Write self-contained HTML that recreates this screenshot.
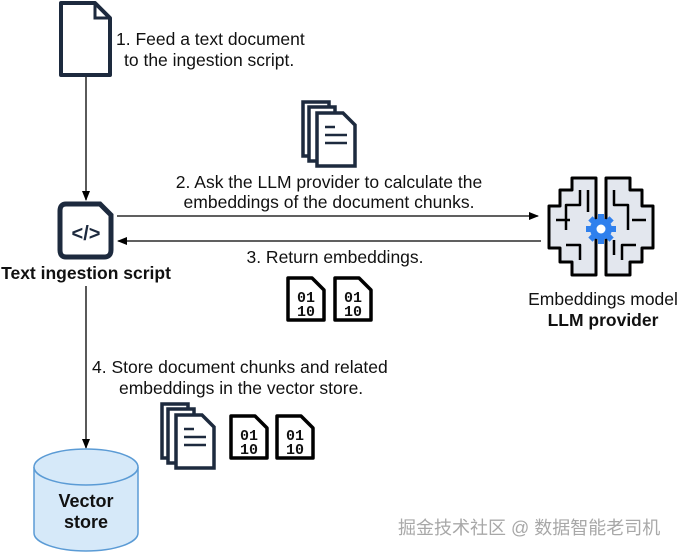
<!DOCTYPE html>
<html><head><meta charset="utf-8"><style>
body{margin:0;background:#fff;width:677px;height:554px;overflow:hidden}
text{font-family:"Liberation Sans",Arial,sans-serif;fill:#111}
</style></head><body>
<svg width="677" height="554" viewBox="0 0 677 554" xmlns="http://www.w3.org/2000/svg">
<defs>
<marker id="ah" markerWidth="10" markerHeight="8" refX="9" refY="4" orient="auto" markerUnits="userSpaceOnUse">
<path d="M0,0 L10,4 L0,8 z" fill="#000"/></marker>
<g id="bin">
<path d="M2,2 H26 L38,14 V44 H2 Z" fill="#fff" stroke="#000" stroke-width="3.5" stroke-linejoin="round"/>
<text x="20" y="26" font-size="15" font-weight="bold" text-anchor="middle" style="font-family:'Liberation Mono',monospace">01</text>
<text x="20" y="40" font-size="15" font-weight="bold" text-anchor="middle" style="font-family:'Liberation Mono',monospace">10</text>
</g>
<g id="stack" fill="#fff" stroke="#1d2a3e" stroke-width="3.5">
<path d="M2,2 H28 V56 H2 Z"/>
<path d="M8,7 H34 V61 H8 Z"/>
<path d="M16,13 H42 L54,25 V66 H16 Z"/>
<path d="M24,27 H34 M24,35 H46 M24,43 H46" stroke-width="2.5"/>
</g>
</defs>
<!-- doc -->
<path d="M61,3 H95 L110,18 V75 H61 Z" fill="#fff" stroke="#1d2a3e" stroke-width="4" stroke-linejoin="round"/>
<path d="M95,3 V18 H110" fill="none" stroke="#1d2a3e" stroke-width="3"/>
<line x1="86" y1="77" x2="86" y2="200" stroke="#000" stroke-width="1.3" marker-end="url(#ah)"/>
<text x="116" y="45" font-size="17.5">1. Feed a text document</text>
<text x="124" y="66" font-size="17.5">to the ingestion script.</text>
<!-- script -->
<path d="M66,204 H100 L111,215 V250 Q111,257 104,257 H66 Q60,257 60,250 V211 Q60,204 66,204 Z" fill="#fff" stroke="#1d2a3e" stroke-width="5"/>
<text x="86" y="240" font-size="20" font-weight="bold" text-anchor="middle" style="fill:#1d2a3e">&lt;/&gt;</text>
<text x="86" y="279" font-size="17.5" font-weight="bold" text-anchor="middle">Text ingestion script</text>
<use href="#stack" x="301" y="100"/>
<text x="329" y="188" font-size="17.5" text-anchor="middle">2. Ask the LLM provider to calculate the</text>
<text x="329" y="208" font-size="17.5" text-anchor="middle">embeddings of the document chunks.</text>
<line x1="117" y1="216" x2="538" y2="216" stroke="#000" stroke-width="1.3" marker-end="url(#ah)"/>
<line x1="541" y1="241" x2="118" y2="241" stroke="#000" stroke-width="1.3" marker-end="url(#ah)"/>
<text x="335" y="263" font-size="17.5" text-anchor="middle">3. Return embeddings.</text>
<use href="#bin" x="286" y="276"/>
<use href="#bin" x="333" y="276"/>
<!-- brain -->
<g stroke="#000" stroke-width="3" fill="#e3e7ee" stroke-linejoin="round">
<path d="M572,178 H596 V275 H572 V262 H560 V248 H549 V206 H560 V190 H572 Z"/>
<path d="M606,178 H630 V190 H642 V206 H653 V248 H642 V262 H630 V275 H606 Z"/>
<path d="M580,190 V205 H566 V230 M556,220 H570 M580,260 V245 H566 M588,190 V212 M614,190 V205 H628 V230 M646,220 H632 M622,260 V245 H636 M614,255 V240" fill="none" stroke-width="2.5"/>
</g>
<circle cx="601" cy="229" r="11" fill="#2f80ed"/>
<g fill="#2f80ed"><rect x="598" y="214" width="6" height="30"/><rect x="586" y="226" width="30" height="6"/><rect x="598" y="214" width="6" height="30" transform="rotate(45 601 229)"/><rect x="598" y="214" width="6" height="30" transform="rotate(-45 601 229)"/></g>
<circle cx="601" cy="229" r="4.5" fill="#fff"/>
<text x="603" y="305" font-size="17.5" text-anchor="middle">Embeddings model</text>
<text x="603" y="326" font-size="17.5" font-weight="bold" text-anchor="middle">LLM provider</text>
<!-- store -->
<line x1="86" y1="286" x2="86" y2="448" stroke="#000" stroke-width="1.3" marker-end="url(#ah)"/>
<text x="92" y="373" font-size="17.5">4. Store document chunks and related</text>
<text x="119" y="394" font-size="17.5">embeddings in the vector store.</text>
<use href="#stack" x="160" y="402"/>
<use href="#bin" x="229" y="414"/>
<use href="#bin" x="275" y="414"/>
<path d="M34,467 V533 A52,18 0 0 0 138,533 V467" fill="#d6e9f9" stroke="#5b9bd5" stroke-width="1.5"/>
<ellipse cx="86" cy="467" rx="52" ry="18" fill="#d6e9f9" stroke="#5b9bd5" stroke-width="1.5"/>
<text x="86" y="507" font-size="18" font-weight="bold" text-anchor="middle">Vector</text>
<text x="86" y="528" font-size="18" font-weight="bold" text-anchor="middle">store</text>
<text x="398" y="534" font-size="18" style="fill:#a8a8a8;font-family:'Liberation Sans','Noto Sans CJK SC',sans-serif">掘金技术社区 @ 数据智能老司机</text>
</svg>
</body></html>
